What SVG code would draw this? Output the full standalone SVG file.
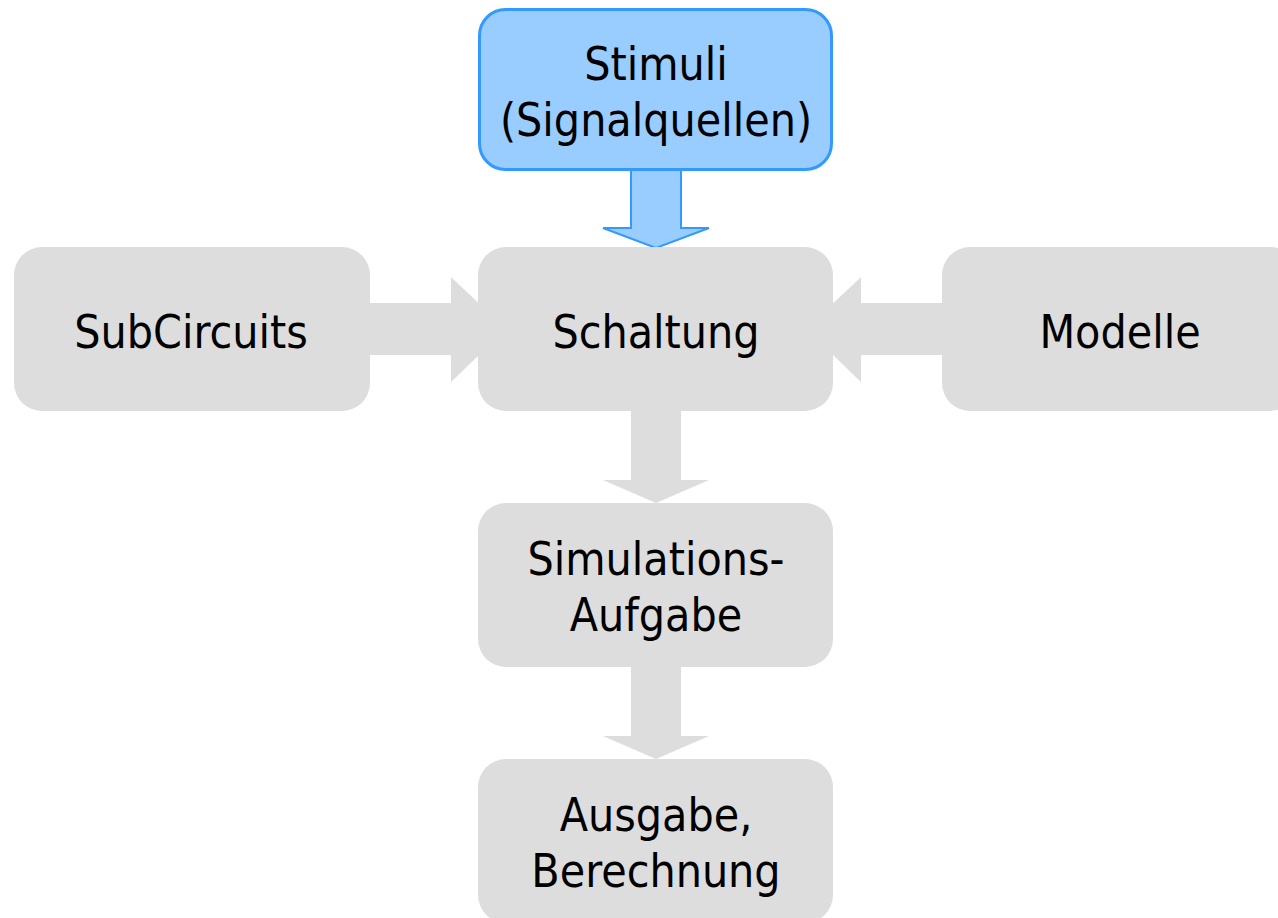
<svg xmlns="http://www.w3.org/2000/svg" width="1278" height="918" viewBox="0 0 1278 918">
  <style>
    .box { fill: #dddddd; }
    .src { fill: #99ccff; stroke: #3399ff; stroke-width: 3; }
    .flow { fill: #dddddd; }
    .flow-src { fill: #99ccff; stroke: #3399ff; stroke-width: 2; }
    text { font-family: "DejaVu Sans Condensed", "DejaVu Sans", sans-serif; font-size: 46px; fill: #000; text-anchor: middle; }
  </style>
  <rect width="1278" height="918" fill="#ffffff"/>

  <!-- block arrows between the stages -->
  <g id="connectors">
    <polygon class="flow" points="370,303 451,303 451,277 506,329 451,382 451,355 370,355"/>
    <polygon class="flow" points="942,303 861,303 861,277 806,329 861,382 861,355 942,355"/>
    <polygon class="flow" points="631,400 681,400 681,480 709,480 656,503 603,480 631,480"/>
    <polygon class="flow" points="631,660 681,660 681,736 709,736 656,759 603,736 631,736"/>
    <polygon class="flow-src" points="631,170 681,170 681,228 709,228 656,248 603,228 631,228"/>
  </g>

  <g id="stimuli">
    <rect class="src" x="479.5" y="9.5" width="352" height="160" rx="26"/>
    <text x="656" y="80">Stimuli</text>
    <text x="656" y="136">(Signalquellen)</text>
  </g>

  <g id="subcircuits">
    <rect class="box" x="14" y="247" width="356" height="164" rx="28"/>
    <text x="191" y="348">SubCircuits</text>
  </g>

  <g id="schaltung">
    <rect class="box" x="478" y="247" width="355" height="164" rx="28"/>
    <text x="656" y="348">Schaltung</text>
  </g>

  <g id="modelle">
    <rect class="box" x="942" y="247" width="356" height="164" rx="28"/>
    <text x="1120" y="348">Modelle</text>
  </g>

  <g id="simulation">
    <rect class="box" x="478" y="503" width="355" height="164" rx="28"/>
    <text x="656" y="575">Simulations-</text>
    <text x="656" y="631">Aufgabe</text>
  </g>

  <g id="ausgabe">
    <rect class="box" x="478" y="759" width="355" height="164" rx="28"/>
    <text x="656" y="831">Ausgabe,</text>
    <text x="656" y="887">Berechnung</text>
  </g>
</svg>
